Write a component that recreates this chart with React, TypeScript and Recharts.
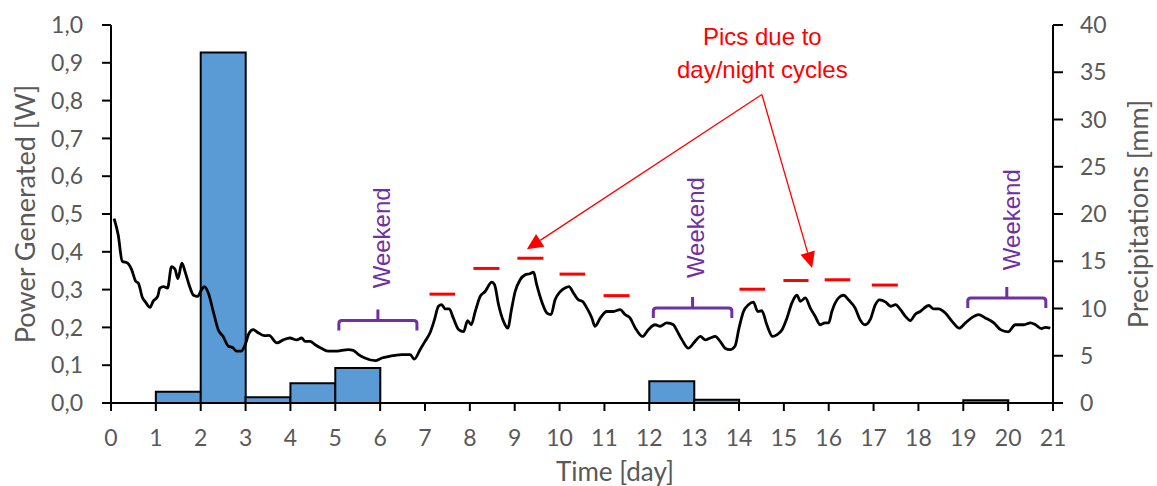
import React from 'react';
import {
  ComposedChart,
  Bar,
  Line,
  XAxis,
  YAxis,
  ReferenceLine,
  ReferenceDot,
  Label,
} from 'recharts';

// ---------- data ----------
const dayBins = ['0', '1', '2', '3', '4', '5', '6', '7', '8', '9', '10', '11', '12', '13', '14', '15', '16', '17', '18', '19', '20'];
const precipitationMm: (number | null)[] = [
  null, 1.2, 37.1, 0.6, 2.1, 3.7, null, null, null, null, null, null, 2.3, 0.35, null, null, null, null, null, 0.3, null,
];
const timeTicks = [0, 1, 2, 3, 4, 5, 6, 7, 8, 9, 10, 11, 12, 13, 14, 15, 16, 17, 18, 19, 20, 21];
const powerTicks = [0, 0.1, 0.2, 0.3, 0.4, 0.5, 0.6, 0.7, 0.8, 0.9, 1.0];
const rainTicks = [0, 5, 10, 15, 20, 25, 30, 35, 40];

// [time (day), power (W)]
const powerSeries: [number, number][] = [
  [0.07, 0.488], [0.16, 0.445], [0.25, 0.375], [0.37, 0.37], [0.46, 0.353], [0.55, 0.322], [0.61, 0.317],
  [0.7, 0.279], [0.77, 0.267], [0.87, 0.253], [0.94, 0.269], [1.04, 0.282], [1.09, 0.304], [1.17, 0.308],
  [1.26, 0.304], [1.35, 0.361], [1.43, 0.353], [1.49, 0.329], [1.58, 0.37], [1.65, 0.348], [1.74, 0.313],
  [1.84, 0.285], [1.93, 0.282], [2.02, 0.3], [2.08, 0.308], [2.17, 0.291], [2.28, 0.242], [2.39, 0.194],
  [2.5, 0.176], [2.62, 0.15], [2.71, 0.147], [2.8, 0.137], [2.9, 0.137], [2.99, 0.154], [3.08, 0.185],
  [3.17, 0.194], [3.29, 0.185], [3.42, 0.178], [3.52, 0.179], [3.7, 0.159], [3.84, 0.167], [3.99, 0.172],
  [4.14, 0.167], [4.25, 0.172], [4.33, 0.163], [4.44, 0.163], [4.55, 0.154], [4.7, 0.144], [4.85, 0.137],
  [5.0, 0.137], [5.14, 0.139], [5.29, 0.141], [5.4, 0.139], [5.52, 0.128], [5.66, 0.119], [5.89, 0.112],
  [6.04, 0.119], [6.18, 0.123], [6.33, 0.126], [6.48, 0.128], [6.67, 0.128], [6.76, 0.116], [6.89, 0.141],
  [7.0, 0.163], [7.11, 0.185], [7.21, 0.22], [7.3, 0.256], [7.37, 0.26], [7.45, 0.249], [7.54, 0.249],
  [7.63, 0.225], [7.75, 0.194], [7.86, 0.189], [7.95, 0.218], [8.03, 0.207], [8.12, 0.242], [8.23, 0.282],
  [8.34, 0.295], [8.49, 0.32], [8.55, 0.313], [8.64, 0.26], [8.75, 0.216], [8.85, 0.198], [8.92, 0.242],
  [9.01, 0.295], [9.12, 0.326], [9.23, 0.339], [9.34, 0.342], [9.42, 0.346], [9.49, 0.313], [9.6, 0.269],
  [9.72, 0.238], [9.81, 0.234], [9.9, 0.273], [10.01, 0.294], [10.12, 0.304], [10.21, 0.308], [10.31, 0.291],
  [10.42, 0.273], [10.51, 0.269], [10.61, 0.251], [10.72, 0.225], [10.79, 0.203], [10.91, 0.225], [11.05, 0.242],
  [11.2, 0.242], [11.35, 0.247], [11.46, 0.234], [11.57, 0.225], [11.69, 0.198], [11.85, 0.176], [11.98, 0.194],
  [12.13, 0.207], [12.24, 0.203], [12.39, 0.212], [12.54, 0.207], [12.6, 0.195], [12.73, 0.167], [12.87, 0.145],
  [13.02, 0.163], [13.14, 0.176], [13.25, 0.167], [13.36, 0.172], [13.47, 0.176], [13.58, 0.163], [13.69, 0.145],
  [13.8, 0.141], [13.91, 0.15], [14.0, 0.198], [14.1, 0.242], [14.21, 0.26], [14.32, 0.267], [14.42, 0.242],
  [14.51, 0.244], [14.62, 0.207], [14.75, 0.176], [14.85, 0.181], [14.96, 0.194], [15.07, 0.225], [15.18, 0.265],
  [15.29, 0.285], [15.37, 0.269], [15.48, 0.278], [15.59, 0.251], [15.7, 0.229], [15.81, 0.207], [15.92, 0.212],
  [16.0, 0.212], [16.07, 0.242], [16.22, 0.278], [16.33, 0.285], [16.44, 0.273], [16.59, 0.251], [16.7, 0.22],
  [16.81, 0.207], [16.93, 0.222], [17.04, 0.26], [17.13, 0.273], [17.27, 0.267], [17.38, 0.256], [17.49, 0.26],
  [17.6, 0.247], [17.71, 0.229], [17.82, 0.218], [17.93, 0.235], [18.04, 0.242], [18.23, 0.258], [18.34, 0.249],
  [18.45, 0.249], [18.6, 0.238], [18.75, 0.216], [18.91, 0.198], [19.05, 0.212], [19.19, 0.226], [19.34, 0.234],
  [19.49, 0.225], [19.68, 0.212], [19.83, 0.194], [20.0, 0.188], [20.16, 0.207], [20.35, 0.207], [20.5, 0.212],
  [20.61, 0.207], [20.74, 0.197], [20.83, 0.2], [20.94, 0.198],
];

// red peak marks: [from day, to day, power level]
const peakMarks: [number, number, number][] = [
  [7.1, 7.67, 0.288], [8.08, 8.66, 0.356], [9.06, 9.64, 0.383], [10.0, 10.57, 0.341], [10.98, 11.56, 0.284],
  [14.01, 14.58, 0.301], [14.99, 15.55, 0.324], [15.91, 16.48, 0.326], [16.96, 17.54, 0.312],
];

// weekend braces: [from day, to day, brace level, label day, label level]
const weekendBraces: [number, number, number, number, number][] = [
  [5.08, 6.82, 0.2185, 6.02, 0.437],
  [12.09, 13.84, 0.2513, 13.02, 0.464],
  [19.1, 20.84, 0.2778, 20.07, 0.485],
];

const noteText = ['Pics due to', 'day/night cycles'];
const notePos: [number, number] = [14.52, 0.948];
const arrowApex: [number, number] = [14.51, 0.816];
const arrowTips: [number, number][] = [[9.27, 0.407], [15.63, 0.357]];

// ---------- derived ----------
const barData = dayBins.map((d, i) => ({ bin: d, rain: precipitationMm[i] }));
const lineData = powerSeries.map(([t, p]) => ({ t, p }));

const GREY = '#595959';
const TICK_FONT = 'Lato, "Open Sans", sans-serif';
const ARIAL = '"Liberation Sans", Arial, sans-serif';
const RED = '#FF0000';
const PURPLE = '#7030A0';

const fmtComma = (v: number) => v.toFixed(1).replace('.', ',');

const ArrowShape = (p: any) => {
  const { x1, y1, x2, y2 } = p;
  const dx = x2 - x1;
  const dy = y2 - y1;
  const len = Math.hypot(dx, dy) || 1;
  const ux = dx / len;
  const uy = dy / len;
  const hl = 16;
  const hw = 7.5;
  const bx = x2 - ux * hl;
  const by = y2 - uy * hl;
  const pts = `${x2},${y2} ${bx - uy * hw},${by + ux * hw} ${bx + uy * hw},${by - ux * hw}`;
  return (
    <g>
      <line x1={x1} y1={y1} x2={bx} y2={by} stroke={RED} strokeWidth={1.3} />
      <polygon points={pts} fill={RED} />
    </g>
  );
};

const BraceShape = (p: any) => {
  const { x1, y1, x2 } = p;
  const leg = 10;
  const tip = 11;
  const r = 3;
  const cx = (x1 + x2) / 2;
  const d = `M${x1},${y1 + leg} L${x1},${y1 + r} Q${x1},${y1} ${x1 + r},${y1} L${x2 - r},${y1} Q${x2},${y1} ${x2},${y1 + r} L${x2},${y1 + leg} M${cx},${y1} L${cx},${y1 - tip}`;
  return <path d={d} stroke={PURPLE} strokeWidth={3} fill="none" />;
};

export default function App() {
  return (
    <div style={{ position: 'absolute', left: 0, top: 0 }}>
      <ComposedChart
        width={1157}
        height={486}
        data={barData}
        margin={{ top: 25, right: 0, bottom: 0, left: 0 }}
        barCategoryGap={0}
        barGap={0}
      >
        <XAxis xAxisId="bins" dataKey="bin" type="category" hide height={0} />
        <XAxis
          xAxisId="time"
          dataKey="t"
          type="number"
          domain={[0, 21]}
          ticks={timeTicks}
          interval={0}
          allowDataOverflow
          height={83}
          tickSize={8}
          tickMargin={19}
          axisLine={{ stroke: '#000', strokeWidth: 2 }}
          tickLine={{ stroke: '#000', strokeWidth: 2 }}
          tick={{ fill: GREY, fontSize: 23, fontFamily: TICK_FONT }}
        >
          <Label
            content={(props: any) => {
              const vb = props.viewBox || { x: 111, y: 403, width: 942, height: 83 };
              return (
                <text
                  x={vb.x + vb.width / 2 + 33}
                  y={vb.y + 78}
                  textAnchor="middle"
                  fill={GREY}
                  fontSize={26}
                  fontFamily={TICK_FONT}
                >
                  Time [day]
                </text>
              );
            }}
          />
        </XAxis>
        <YAxis
          yAxisId="power"
          domain={[0, 1]}
          ticks={powerTicks}
          tickFormatter={fmtComma}
          width={111}
          tickSize={9}
          tickMargin={19}
          axisLine={{ stroke: '#000', strokeWidth: 2 }}
          tickLine={{ stroke: '#000', strokeWidth: 2 }}
          tick={{ fill: GREY, fontSize: 23, fontFamily: TICK_FONT }}
        >
          <Label
            content={(props: any) => {
              const vb = props.viewBox || { x: 0, y: 25, width: 111, height: 378 };
              const cx = vb.x + 24;
              const cy = vb.y + vb.height / 2;
              return (
                <text
                  x={cx}
                  y={cy}
                  transform={`rotate(-90 ${cx} ${cy})`}
                  textAnchor="middle"
                  dominantBaseline="central"
                  fill={GREY}
                  fontSize={27}
                  fontFamily={TICK_FONT}
                >
                  Power Generated [W]
                </text>
              );
            }}
          />
        </YAxis>
        <YAxis
          yAxisId="rain"
          orientation="right"
          domain={[0, 40]}
          ticks={rainTicks}
          width={104}
          tickSize={10}
          tickMargin={17}
          axisLine={{ stroke: '#000', strokeWidth: 2 }}
          tickLine={{ stroke: '#000', strokeWidth: 2 }}
          tick={{ fill: GREY, fontSize: 23, fontFamily: TICK_FONT }}
        >
          <Label
            content={(props: any) => {
              const vb = props.viewBox || { x: 1053, y: 25, width: 104, height: 378 };
              const cx = vb.x + 84;
              const cy = vb.y + vb.height / 2;
              return (
                <text
                  x={cx}
                  y={cy}
                  transform={`rotate(-90 ${cx} ${cy})`}
                  textAnchor="middle"
                  dominantBaseline="central"
                  fill={GREY}
                  fontSize={27}
                  fontFamily={TICK_FONT}
                >
                  Precipitations [mm]
                </text>
              );
            }}
          />
        </YAxis>

        <Bar
          xAxisId="bins"
          yAxisId="rain"
          dataKey="rain"
          fill="#5B9BD5"
          stroke="#000"
          strokeWidth={2}
          isAnimationActive={false}
        />
        <Line
          xAxisId="time"
          yAxisId="power"
          data={lineData}
          dataKey="p"
          type="monotone"
          stroke="#000"
          strokeWidth={2.8}
          dot={false}
          activeDot={false}
          isAnimationActive={false}
        />

        {peakMarks.map(([a, b, lvl], i) => (
          <ReferenceLine
            key={`pk${i}`}
            xAxisId="time"
            yAxisId="power"
            segment={[{ x: a, y: lvl }, { x: b, y: lvl }]}
            stroke={RED}
            strokeWidth={3}
          />
        ))}

        {weekendBraces.map(([a, b, lvl], i) => (
          <ReferenceLine
            key={`br${i}`}
            xAxisId="time"
            yAxisId="power"
            segment={[{ x: a, y: lvl }, { x: b, y: lvl }]}
            shape={BraceShape}
          />
        ))}

        {weekendBraces.map(([, , , lx, ly], i) => (
          <ReferenceDot
            key={`wk${i}`}
            xAxisId="time"
            yAxisId="power"
            x={lx}
            y={ly}
            r={0}
            shape={(p: any) => (
              <text
                x={p.cx}
                y={p.cy}
                transform={`rotate(-90 ${p.cx} ${p.cy})`}
                textAnchor="middle"
                dominantBaseline="central"
                fill={PURPLE}
                fontSize={24}
                fontFamily={ARIAL}
              >
                Weekend
              </text>
            )}
          />
        ))}

        {arrowTips.map(([tx, ty], i) => (
          <ReferenceLine
            key={`ar${i}`}
            xAxisId="time"
            yAxisId="power"
            segment={[{ x: arrowApex[0], y: arrowApex[1] }, { x: tx, y: ty }]}
            shape={ArrowShape}
          />
        ))}

        <ReferenceDot
          xAxisId="time"
          yAxisId="power"
          x={notePos[0]}
          y={notePos[1]}
          r={0}
          shape={(p: any) => (
            <g>
              {noteText.map((s, i) => (
                <text
                  key={i}
                  x={p.cx}
                  y={p.cy + i * 33}
                  textAnchor="middle"
                  fill={RED}
                  fontSize={24}
                  fontFamily={ARIAL}
                >
                  {s}
                </text>
              ))}
            </g>
          )}
        />
      </ComposedChart>
    </div>
  );
}
